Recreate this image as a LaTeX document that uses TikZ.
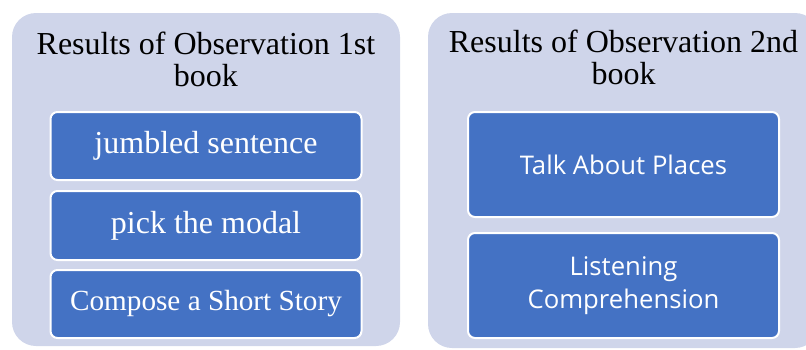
\documentclass[tikz,border=0pt]{standalone}
\usepackage{fontspec}
\setmainfont{Liberation Serif}
\newfontfamily\boxsans{Open Sans}
\definecolor{panelfill}{RGB}{207,213,234}
\definecolor{boxblue}{RGB}{68,114,196}
\begin{document}
\begin{tikzpicture}[x=1pt,y=-1pt,
  panel/.style={fill=panelfill,rounded corners=24pt,inner sep=0pt,minimum width=#1},
  title/.style={align=center,inner sep=0pt,anchor=north,font=\fontsize{32}{32}\selectfont},
  item/.style={fill=boxblue,draw=white,line width=2pt,rounded corners=7pt,text=white,inner sep=0pt,align=center,minimum width=311pt},
  serifitem/.style={item,font=\fontsize{32}{36}\selectfont},
  sansitem/.style={item,minimum height=105pt,font=\boxsans\fontsize{25.7}{33}\selectfont}]
\clip (0,0) rectangle (806,349);
\useasboundingbox (0,0) rectangle (806,349);
% the two panels
\node[panel=388pt,minimum height=333pt] (first) at (206,179.5) {};
\node[panel=391pt,minimum height=335pt] (second) at (623.5,180.5) {};
\node[title] (firsttitle) at (206,31.5) {Results of Observation 1st\\book};
\node[title] (secondtitle) at (623.5,30) {Results of Observation 2nd\\book};
% items of the 1st book
\node[serifitem,minimum height=68pt] (jumbled) at (206,146) {\raisebox{-1.5pt}{jumbled sentence}};
\node[serifitem,minimum height=69pt] (modal) at (206,225.5) {\raisebox{-1pt}{pick the modal}};
\node[serifitem,minimum height=68pt,font=\fontsize{29.2}{34}\selectfont] (story) at (206,304) {\raisebox{-1pt}{Compose a Short Story}};
% items of the 2nd book
\node[sansitem] (places) at (623.5,164.5) {Talk About Places};
\node[sansitem] (listening) at (623.5,285.5) {Listening\\Comprehension};
\end{tikzpicture}
\end{document}
